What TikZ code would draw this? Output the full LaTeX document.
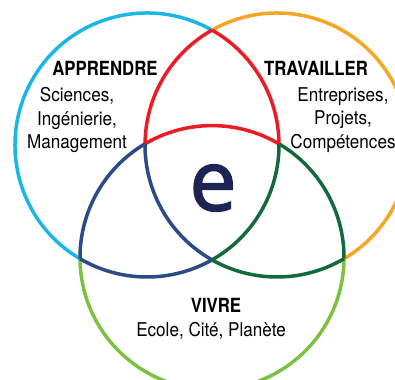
\documentclass[tikz,border=0pt]{standalone}
\usepackage{fontspec}
\setmainfont{TeX Gyre Heros}[FakeStretch=0.9]
\newfontfamily\headfont{TeX Gyre Heros}[FakeStretch=0.86]
\newfontfamily\efont{Open Sans}[FakeBold=2]
\usetikzlibrary{calc}
\definecolor{cyanring}{HTML}{1BB5E8}
\definecolor{orangering}{HTML}{F6A623}
\definecolor{greenring}{HTML}{7CC242}
\definecolor{redlens}{HTML}{EC1C24}
\definecolor{bluelens}{HTML}{2B4A86}
\definecolor{greenlens}{HTML}{12693A}
\definecolor{navy}{HTML}{1D2352}
\tikzstyle{ring}=[line width=3.5pt,line cap=butt]
\tikzstyle{head}=[font=\headfont\bfseries\fontsize{19.5}{23.5}\selectfont,inner sep=0pt]
\tikzstyle{body}=[font=\fontsize{19}{23.5}\selectfont,align=center,inner sep=0pt]

\begin{document}
\begin{tikzpicture}[x=1pt,y=1pt]
  \useasboundingbox (0,0) rectangle (395,379);
  \clip (0,0) rectangle (395,379);
  \newcommand{\rad}{132}

  \coordinate (L) at (147,234);
  \coordinate (R) at (277,234);
  \coordinate (B) at (212,121.4);

  % rings, cut where they cross
  \foreach \cc/\aa/\bb/\col in {L/60.5/239.5/cyanring,
      R/-59.5/119.5/orangering, B/180.5/359.5/greenring,
      L/0.5/60.5/redlens, R/119.5/179.5/redlens, B/59.5/120.5/redlens,
      L/-120.5/-60.5/bluelens, R/179.5/240.5/bluelens, B/120.5/180.5/bluelens,
      L/-60.5/0.5/greenlens, R/240.5/300.5/greenlens, B/-0.5/59.5/greenlens}
    \draw[ring,\col] ([shift={(\aa:\rad pt)}]\cc)
      arc[start angle=\aa, end angle=\bb, radius=\rad pt];

  % labels
  \node[head] (apprendre) at (105,311) {APPRENDRE};
  \node[body] (apprendreTxt) at (77,259) {Sciences,\\Ingénierie,\\Management};
  \node[head] (travailler) at (316,311) {TRAVAILLER};
  \node[body] (travaillerTxt) at (343,259) {Entreprises,\\Projets,\\Compétences};
  \node[head] (vivre) at (216,74) {VIVRE};
  \node[body] (vivreTxt) at (211,48) {Ecole, Cité, Planète};

  % centre
  \node[font=\efont\fontsize{84}{84}\selectfont,text=navy,inner sep=0pt]
    (e) at (213,191) {e};
\end{tikzpicture}
\end{document}
